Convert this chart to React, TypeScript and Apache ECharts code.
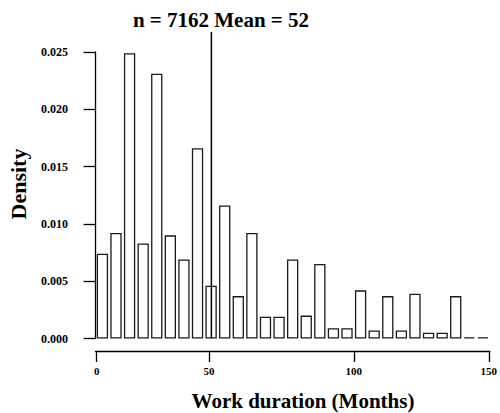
import React, { useEffect, useRef } from "react";
import * as echarts from "echarts";

// Density of each histogram bar (29 bins)
const densities = [
  0.0074, 0.0092, 0.0249, 0.0083, 0.0231, 0.009, 0.0069, 0.0166, 0.0046,
  0.0116, 0.0037, 0.0092, 0.0019, 0.0019, 0.0069, 0.002, 0.0065, 0.0009,
  0.0009, 0.0042, 0.0007, 0.0037, 0.0007, 0.0039, 0.0005, 0.0005, 0.0037,
  0.0001, 0.0001,
];
const binNames = densities.map((_, i) => String(i + 1));

// Bottom axis: tick labels and where they sit (in bar units, 0..29)
const tickLabels = ["0", "50", "100", "150"];
const tickAt = [0.08, 8.34, 19.0, 28.93];

// Mean marker (in bar units) and its vertical extent
const meanAt = 8.52;
const meanTop = 0.02675;

const titleText = "n = 7162 Mean = 52";
const xName = "Work duration (Months)";
const yName = "Density";

const FONT = "Liberation Serif";

export default function App() {
  const ref = useRef<HTMLDivElement>(null);
  useEffect(() => {
    if (!ref.current) return;
    const chart = echarts.init(ref.current, null, { renderer: "svg" });
    chart.setOption({
      animation: false,
      backgroundColor: "#ffffff",
      grid: { left: 95.6, right: 9.2, top: 52, bottom: 74.5, containLabel: false },
      xAxis: [
        {
          type: "category",
          data: binNames,
          show: false,
          boundaryGap: true,
        },
        {
          type: "value",
          min: 0,
          max: 29,
          position: "bottom",
          offset: 12.5,
          axisLine: { show: true, lineStyle: { color: "#000", width: 1.3 } },
          axisTick: {
            show: true,
            customValues: tickAt,
            length: 11,
            lineStyle: { color: "#000", width: 1.3 },
          },
          axisLabel: {
            customValues: tickAt,
            formatter: (v: number) => {
              const i = tickAt.findIndex((t) => Math.abs(t - v) < 1e-6);
              return i >= 0 ? tickLabels[i] : "";
            },
            margin: 14,
            color: "#000",
            fontFamily: FONT,
            fontWeight: "bold",
            fontSize: 11,
          },
          splitLine: { show: false },
        },
      ],
      yAxis: {
        type: "value",
        min: 0,
        max: 0.025,
        interval: 0.005,
        offset: 10.6,
        axisLine: { show: true, lineStyle: { color: "#000", width: 1.3 } },
        axisTick: { show: true, length: 12, lineStyle: { color: "#000", width: 1.3 } },
        axisLabel: {
          formatter: (v: number) => v.toFixed(3),
          margin: 17,
          color: "#000",
          fontFamily: FONT,
          fontWeight: "bold",
          fontSize: 12,
        },
        splitLine: { show: false },
      },
      series: [
        {
          type: "bar",
          xAxisIndex: 0,
          data: densities,
          barCategoryGap: "16.7%",
          itemStyle: { color: "#ffffff", borderColor: "#1a1a1a", borderWidth: 1.3 },
        },
        {
          type: "line",
          xAxisIndex: 1,
          data: [
            [meanAt, 0],
            [meanAt, meanTop],
          ],
          clip: false,
          symbol: "none",
          lineStyle: { color: "#000", width: 1.5 },
        },
      ],
      graphic: [
        {
          type: "text",
          x: 221,
          y: 20,
          style: {
            text: titleText,
            fontFamily: FONT,
            fontWeight: "bold",
            fontSize: 21,
            fill: "#000",
            textAlign: "center",
            textVerticalAlign: "middle",
          },
        },
        {
          type: "text",
          x: 303,
          y: 401,
          style: {
            text: xName,
            fontFamily: FONT,
            fontWeight: "bold",
            fontSize: 21,
            fill: "#000",
            textAlign: "center",
            textVerticalAlign: "middle",
          },
        },
        {
          type: "text",
          x: 18,
          y: 184,
          rotation: Math.PI / 2,
          style: {
            text: yName,
            fontFamily: FONT,
            fontWeight: "bold",
            fontSize: 22,
            fill: "#000",
            textAlign: "center",
            textVerticalAlign: "middle",
          },
        },
      ],
    });
    return () => chart.dispose();
  }, []);
  return (
    <div
      ref={ref}
      style={{ position: "fixed", left: 0, top: 0, width: 500, height: 413 }}
    />
  );
}
